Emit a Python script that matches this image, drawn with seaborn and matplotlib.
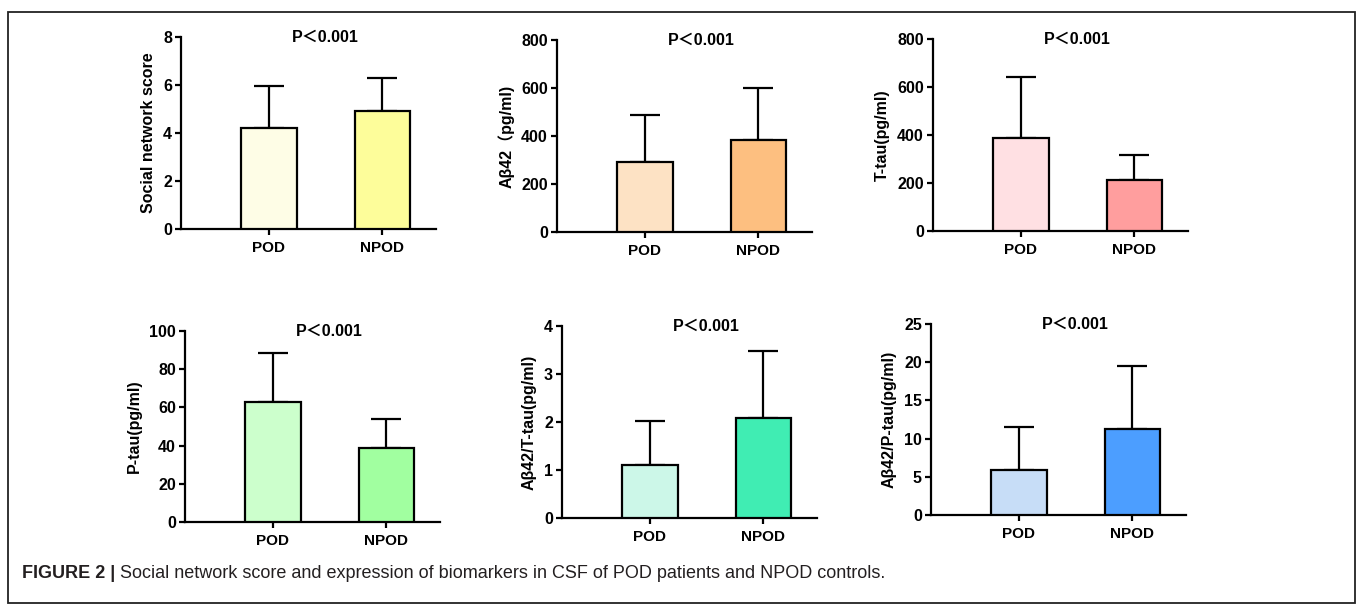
import matplotlib
matplotlib.use("Agg")
import matplotlib.pyplot as plt
import matplotlib.patches as patches
import seaborn as sns

# data (mean and SD, upper error only)
groups = ["POD", "NPOD"]

social_mean = [4.22, 4.93]
social_sd = [1.75, 1.37]
abeta_mean = [292, 383]
abeta_sd = [195, 217]
ttau_mean = [387, 212]
ttau_sd = [255, 105]
ptau_mean = [62.8, 38.7]
ptau_sd = [25.7, 15.2]
ab_tt_mean = [1.10, 2.08]
ab_tt_sd = [0.92, 1.40]
ab_pt_mean = [5.9, 11.2]
ab_pt_sd = [5.6, 8.3]

ylabels = ["Social network score", "Aβ42（pg/ml)", "T-tau(pg/ml)",
           "P-tau(pg/ml)", "Aβ42/T-tau(pg/ml)", "Aβ42/P-tau(pg/ml)"]
p_text = "P＜0.001"
caption_bold = "FIGURE 2 |"
caption_rest = " Social network score and expression of biomarkers in CSF of POD patients and NPOD controls."

sns.set_style("ticks")
plt.rcParams["font.family"] = ["Liberation Sans", "Noto Sans CJK SC", "DejaVu Sans"]
plt.rcParams["text.color"] = "black"
plt.rcParams["axes.labelcolor"] = "black"
plt.rcParams["xtick.color"] = "black"
plt.rcParams["ytick.color"] = "black"
plt.rcParams["axes.edgecolor"] = "black"

W, H = 1357, 610
fig = plt.figure(figsize=(W / 100, H / 100), dpi=100)

# panel settings: (mean, sd, palette, ymax, yticks, left px, top px, bottom px)
panels = [
    (social_mean, social_sd, ["#FEFDE6", "#FDFD9A"], 8, [0, 2, 4, 6, 8], 181, 37, 229),
    (abeta_mean, abeta_sd, ["#FDE2C4", "#FDBF80"], 800, [0, 200, 400, 600, 800], 557, 40, 232),
    (ttau_mean, ttau_sd, ["#FFE0E3", "#FF9E9E"], 800, [0, 200, 400, 600, 800], 933, 39, 231),
    (ptau_mean, ptau_sd, ["#CCFFCC", "#A1FFA0"], 100, [0, 20, 40, 60, 80, 100], 185, 331, 522),
    (ab_tt_mean, ab_tt_sd, ["#CCF7E8", "#40EDB3"], 4, [0, 1, 2, 3, 4], 562, 326, 518),
    (ab_pt_mean, ab_pt_sd, ["#C7DDF7", "#4C9EFF"], 25, [0, 5, 10, 15, 20, 25], 931, 324, 515),
]

for i, (mean, sd, pal, ymax, yt, lpx, tpx, bpx) in enumerate(panels):
    ax = fig.add_axes([lpx / W, 1 - bpx / H, 255 / W, (bpx - tpx) / H])
    sns.barplot(x=groups, y=mean, hue=groups, palette=pal, legend=False, saturation=1,
                edgecolor="black", linewidth=1.6, width=0.49, ax=ax, zorder=3)
    ax.errorbar([0, 1], mean, yerr=[[0, 0], sd], fmt="none", ecolor="black",
                elinewidth=1.6, capsize=10.5, capthick=1.6, zorder=2)
    ax.set_xlim(-0.77, 1.47)
    ax.set_ylim(0, ymax)
    ax.set_yticks(yt)
    ax.set_ylabel(ylabels[i], fontsize=11.5, fontweight="bold", labelpad=5)
    ax.set_xlabel("")
    for s in ["top", "right"]:
        ax.spines[s].set_visible(False)
    for s in ["left", "bottom"]:
        ax.spines[s].set_linewidth(1.6)
    ax.tick_params(axis="y", width=1.6, length=4.5, labelsize=11.5, pad=2)
    ax.tick_params(axis="x", width=1.6, length=4.5, labelsize=11, pad=4)
    for lab in ax.get_xticklabels() + ax.get_yticklabels():
        lab.set_fontweight("bold")
    ax.text(0.5, ymax, p_text, ha="center", va="center", fontsize=11.5,
            fontweight="bold", clip_on=False)

# frame around the whole figure
fig.patches.append(patches.Rectangle((8 / W, 1 - 603 / H), 1347 / W, 591 / H,
                                     transform=fig.transFigure, fill=False,
                                     edgecolor="#222222", linewidth=1.3))

t1 = fig.text(22 / W, 1 - 573 / H, caption_bold, fontsize=13, fontweight="bold",
              color="#231F20", va="center", ha="left")
fig.canvas.draw()
bb = t1.get_window_extent(fig.canvas.get_renderer())
fig.text(bb.x1 / W, 1 - 573 / H, caption_rest, fontsize=13, color="#231F20",
         va="center", ha="left")

fig.savefig("out.png", dpi=100)
